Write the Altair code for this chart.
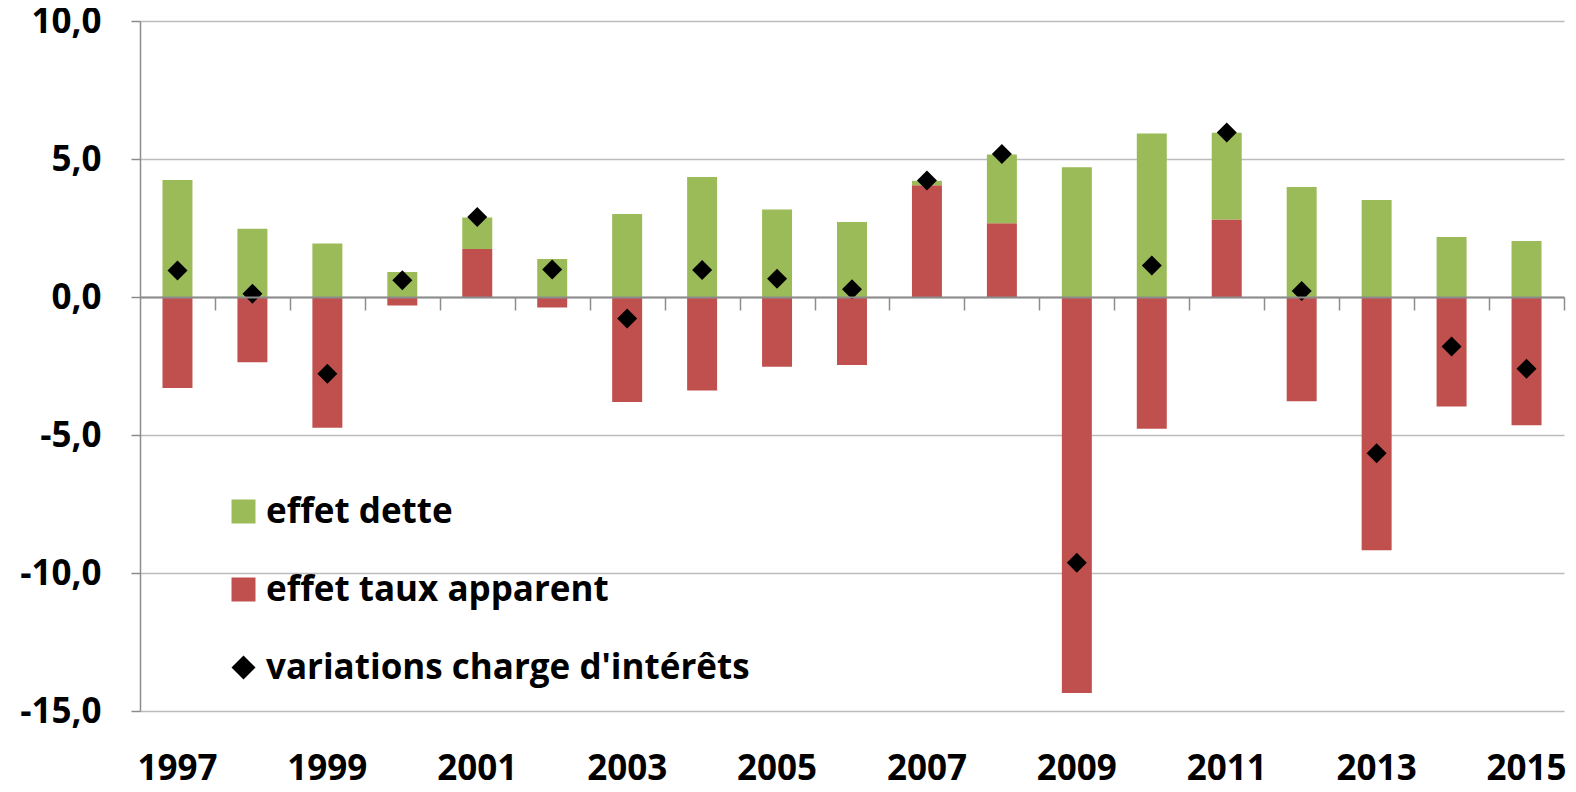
import altair as alt
import pandas as pd

annees = ["1997", "1998", "1999", "2000", "2001", "2002", "2003", "2004", "2005", "2006",
          "2007", "2008", "2009", "2010", "2011", "2012", "2013", "2014", "2015"]
effet_dette = [4.24, 2.47, 1.94, 0.91, 1.14, 1.38, 3.01, 4.35, 3.17, 2.72,
               0.16, 2.49, 4.70, 5.92, 3.14, 3.99, 3.51, 2.17, 2.03]
effet_taux = [-3.30, -2.36, -4.74, -0.31, 1.74, -0.38, -3.80, -3.39, -2.53, -2.46,
              4.05, 2.67, -14.35, -4.77, 2.81, -3.78, -9.18, -3.97, -4.65]
variations = [0.96, 0.12, -2.78, 0.61, 2.90, 1.00, -0.78, 0.98, 0.66, 0.28,
              4.22, 5.18, -9.63, 1.14, 5.96, 0.22, -5.66, -1.79, -2.60]

series = ["effet dette", "effet taux apparent", "variations charge d'intérêts"]
couleurs = ["#9BBB59", "#C0504D", "#000000"]
formes = ["square", "square", "diamond"]
y_ticks = [-15, -10, -5, 0, 5, 10]

rows = []
for i, a in enumerate(annees):
    rows.append({"annee": a, "serie": series[1], "valeur": effet_taux[i], "ordre": 0})
    rows.append({"annee": a, "serie": series[0], "valeur": effet_dette[i], "ordre": 1})
bars_df = pd.DataFrame(rows)
pts_df = pd.DataFrame({"annee": annees, "serie": series[2], "valeur": variations})

W, H = 1424, 690
STEP = W / len(annees)
FONT = "Open Sans"

x_scale = alt.Scale(domain=annees, paddingInner=0.6, paddingOuter=0.3)
y_scale = alt.Scale(domain=[-15, 10], nice=False)
color_scale = alt.Scale(domain=series, range=couleurs)
shape_scale = alt.Scale(domain=series, range=formes)

y_axis = alt.Axis(values=y_ticks, labelExpr="datum.value + ',0'", title=None,
                  labelFont=FONT, labelFontSize=35, labelFontWeight="bold", labelColor="black",
                  labelPadding=30, domainColor="#8c8c8c", domainWidth=1.5,
                  tickColor="#8c8c8c", tickSize=9, tickWidth=1.5,
                  grid=True, gridColor="#bcbcbc", gridWidth=1.5)

axis_zero = alt.Axis(orient="bottom", offset=-(H * 0.6), labels=False, title=None,
                     domain=True, domainColor="#8c8c8c", domainWidth=2,
                     ticks=True, tickOffset=STEP / 2, tickSize=13, tickColor="#8c8c8c",
                     tickWidth=1.5, grid=False, zindex=1)

axis_labels = alt.Axis(orient="bottom", title=None, domain=False, ticks=False, grid=False,
                       labelExpr="toNumber(datum.value) % 2 == 1 ? datum.value : ''",
                       labelFont=FONT, labelFontSize=35, labelFontWeight="bold",
                       labelColor="black", labelPadding=40, labelAngle=0)

legend = alt.Legend(title=None, orient="none", legendX=86, legendY=473,
                    labelFont=FONT, labelFontSize=35, labelFontWeight="bold",
                    labelColor="black", labelLimit=800, symbolSize=576,
                    symbolStrokeWidth=0, rowPadding=42, labelOffset=5)

bars = alt.Chart(bars_df).mark_bar().encode(
    x=alt.X("annee:N", scale=x_scale, axis=axis_zero, sort=annees),
    y=alt.Y("valeur:Q", scale=y_scale, axis=y_axis, stack="zero"),
    color=alt.Color("serie:N", scale=color_scale, legend=legend),
    order=alt.Order("ordre:Q", sort="ascending"),
)

points = alt.Chart(pts_df).mark_point(filled=True, size=400, opacity=1).encode(
    x=alt.X("annee:N", scale=x_scale, axis=axis_labels, sort=annees),
    y=alt.Y("valeur:Q", scale=y_scale),
    color=alt.Color("serie:N", scale=color_scale, legend=legend),
    shape=alt.Shape("serie:N", scale=shape_scale, legend=legend),
)

chart = alt.layer(bars, points).resolve_axis(x="independent").properties(
    width=W, height=H,
    autosize=alt.AutoSizeParams(type="none"),
    padding={"left": 132, "top": 13, "right": 4, "bottom": 73},
    background="white",
).configure_view(stroke=None)

chart.save("out.html", embed_options={"renderer": "svg", "actions": False})
